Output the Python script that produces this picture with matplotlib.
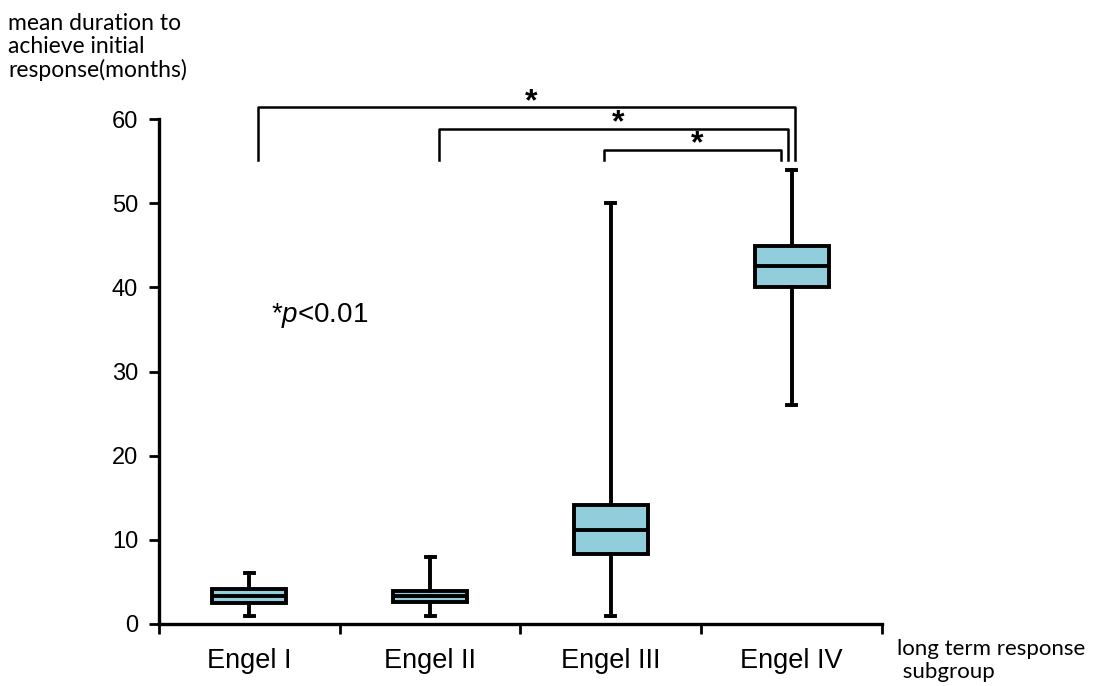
import matplotlib
matplotlib.use("Agg")
import matplotlib.pyplot as plt

plt.rcParams['font.family'] = ['Liberation Sans', 'DejaVu Sans']
plt.rcParams['mathtext.fontset'] = 'custom'
plt.rcParams['mathtext.rm'] = 'Liberation Sans'
plt.rcParams['mathtext.it'] = 'Liberation Sans:italic'

# data (months)
groups = ['Engel I', 'Engel II', 'Engel III', 'Engel IV']
whis_lo = [1.0, 1.0, 1.0, 26.0]
q1 = [2.5, 2.6, 8.3, 40.1]
median = [3.3, 3.3, 11.2, 42.5]
q3 = [4.2, 3.9, 14.1, 44.9]
whis_hi = [6.0, 8.0, 50.0, 54.0]

# significance brackets: (left group, right group)
pairs = [(0, 3), (1, 3), (2, 3)]
sig_label = '*'

fig = plt.figure(figsize=(10.94, 6.86), dpi=100)
ax = fig.add_axes([0.1453, 0.0904, 0.6609, 0.7361])

stats = []
for i, g in enumerate(groups):
    stats.append(dict(label=g, whislo=whis_lo[i], q1=q1[i], med=median[i],
                      q3=q3[i], whishi=whis_hi[i], fliers=[]))

ax.bxp(stats, positions=range(len(groups)), widths=0.41, patch_artist=True,
       showfliers=False, capwidths=0.05,
       boxprops=dict(facecolor='#92CDDC', edgecolor='black', linewidth=2.8),
       medianprops=dict(color='black', linewidth=2.8),
       whiskerprops=dict(color='black', linewidth=2.8),
       capprops=dict(color='black', linewidth=2.8))

ax.set_xlim(-0.5, 3.5)
ax.set_ylim(0, 60)
ax.set_yticks(range(0, 61, 10))
ax.set_xticks([-0.5, 0.5, 1.5, 2.5, 3.5])
ax.set_xticklabels([])
ax.set_xticks(range(len(groups)), minor=True)
ax.set_xticklabels(groups, minor=True, fontsize=19.5)
ax.tick_params(axis='x', which='minor', length=0, pad=17)
ax.tick_params(axis='x', which='major', length=7, width=2)
ax.tick_params(axis='y', length=7, width=2, labelsize=17, pad=8)

for s in ['top', 'right']:
    ax.spines[s].set_visible(False)
for s in ['left', 'bottom']:
    ax.spines[s].set_linewidth(2.4)

# brackets
tops = [61.4, 58.8, 56.3]
left_off = [0.05, 0.05, -0.04]
right_off = [0.02, -0.02, -0.06]
leg_bottom = 55.1
for k, (a, b) in enumerate(pairs):
    xl = a + left_off[k]
    xr = b + right_off[k]
    ax.plot([xl, xl, xr, xr], [leg_bottom, tops[k], tops[k], leg_bottom],
            color='black', linewidth=1.8, clip_on=False)
    ax.text((xl + xr) / 2 + 0.025, tops[k] - 0.3, sig_label, ha='center',
            va='baseline', fontsize=23, fontweight='bold', clip_on=False)

ax.text(0.12, 36.7, '*$p$<0.01', fontsize=20, va='center', ha='left')

fig.text(8 / 1094, 1 - 13 / 686, 'mean duration to\nachieve initial\nresponse(months)',
         ha='left', va='top', fontsize=16.5, family=['Lato', 'DejaVu Sans'],
         linespacing=1.12)
fig.text(897 / 1094, 1 - 639 / 686, 'long term response\n subgroup',
         ha='left', va='top', fontsize=16, family=['Lato', 'DejaVu Sans'],
         linespacing=1.18)

fig.savefig('out.png', dpi=100)
